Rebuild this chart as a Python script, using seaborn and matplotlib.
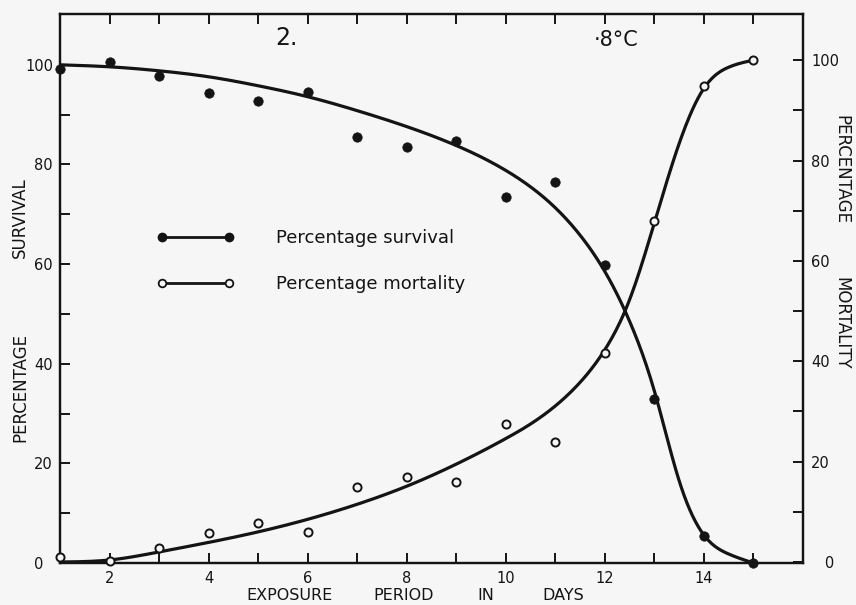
import numpy as np
import pandas as pd
import matplotlib
matplotlib.use("Agg")
import matplotlib.pyplot as plt
from matplotlib.lines import Line2D
from matplotlib.ticker import FixedLocator, FixedFormatter
import seaborn as sns

# Observed values: exposure period (days) at 0.8 degC
days = [1, 2, 3, 4, 5, 6, 7, 8, 9, 10, 11, 12, 13, 14, 15]
survival = [99.2, 100.5, 97.7, 94.3, 92.8, 94.6, 85.5, 83.5, 84.7, 73.5, 76.5, 59.8, 33.0, 5.4, 0.0]
mortality = [0.9, 0.1, 2.7, 5.7, 7.8, 6.0, 15.0, 17.0, 16.0, 27.5, 24.0, 41.6, 68.0, 94.8, 100.0]

# Hand-fitted curves through the observations (knots of the drawn lines)
fit_days = [1, 2, 3, 4, 5, 6, 7, 8, 9, 10, 10.5, 11, 11.5, 12, 12.5, 13, 13.5, 14, 14.5, 15]
survival_fit = [100.0, 99.6, 98.8, 97.6, 95.8, 93.6, 90.8, 87.6, 83.8, 78.8, 75.5, 71.3,
                65.8, 58.5, 48.5, 34.5, 16.5, 5.6, 1.8, 0.0]
mortality_fit = [0.0, 0.4, 2.0, 3.9, 6.0, 8.5, 11.5, 15.1, 19.5, 24.6, 27.5, 31.1,
                 35.8, 42.3, 52.3, 67.6, 83.4, 94.4, 98.6, 100.0]

x_ticks = [2, 4, 6, 8, 10, 12, 14]
y_ticks = [0, 20, 40, 60, 80, 100]

ink = "#141414"
paper = "#f6f6f6"


def smooth_curve(xk, yk, xs):
    """Natural cubic spline through the knots, used to draw a smooth fitted line."""
    xk = np.asarray(xk, float)
    yk = np.asarray(yk, float)
    n = len(xk)
    h = np.diff(xk)
    A = np.zeros((n, n))
    r = np.zeros(n)
    A[0, 0] = A[-1, -1] = 1.0
    for i in range(1, n - 1):
        A[i, i - 1] = h[i - 1]
        A[i, i] = 2 * (h[i - 1] + h[i])
        A[i, i + 1] = h[i]
        r[i] = 6 * ((yk[i + 1] - yk[i]) / h[i] - (yk[i] - yk[i - 1]) / h[i - 1])
    M = np.linalg.solve(A, r)
    i = np.clip(np.searchsorted(xk, xs, side="right") - 1, 0, n - 2)
    a = xk[i + 1] - xs
    b = xs - xk[i]
    hi = h[i]
    return (M[i] * a**3 / (6 * hi) + M[i + 1] * b**3 / (6 * hi)
            + (yk[i] / hi - M[i] * hi / 6) * a + (yk[i + 1] / hi - M[i + 1] * hi / 6) * b)


obs = pd.DataFrame({"day": days, "survival": survival, "mortality": mortality})
grid = np.linspace(fit_days[0], fit_days[-1], 500)
curves = pd.DataFrame({
    "day": grid,
    "survival": smooth_curve(fit_days, survival_fit, grid),
    "mortality": smooth_curve(fit_days, mortality_fit, grid),
})

sns.set_style("white")
plt.rcParams["font.family"] = ["DejaVu Sans"]

fig = plt.figure(figsize=(8.56, 6.05), dpi=100, facecolor=paper)
ax = fig.add_axes([60 / 856, 1 - 563 / 605, 743 / 856, 549 / 605])
ax.set_facecolor(paper)
ax2 = ax.twinx()

# survival on the left scale
sns.lineplot(data=curves, x="day", y="survival", ax=ax, color=ink, lw=2.3,
             sort=False, estimator=None)
sns.scatterplot(data=obs, x="day", y="survival", ax=ax, color=ink, s=46,
                edgecolor=ink, linewidth=0.5, clip_on=False, zorder=5, legend=False)

# mortality on the right scale
sns.lineplot(data=curves, x="day", y="mortality", ax=ax2, color=ink, lw=2.3,
             sort=False, estimator=None)
sns.scatterplot(data=obs, x="day", y="mortality", ax=ax2, facecolor=paper, s=34,
                edgecolor=ink, linewidth=1.4, clip_on=False, zorder=5, legend=False)

ax.set_xlim(1, 16)
ax.set_ylim(0, 110.2)
ax2.set_ylim(-0.2, 109.2)

for a in (ax, ax2):
    a.set_xlabel("")
    a.set_ylabel("")
    for sp in a.spines.values():
        sp.set_visible(True)
        sp.set_color(ink)
        sp.set_linewidth(1.6)

# x ticks: every day, labels on even days, all pointing inward
ax.xaxis.set_major_locator(FixedLocator(x_ticks))
ax.xaxis.set_major_formatter(FixedFormatter([str(v) for v in x_ticks]))
ax.xaxis.set_minor_locator(FixedLocator([3, 5, 7, 9, 11, 13, 15]))
ax.tick_params(axis="x", which="both", direction="in", length=7, width=1.4,
               top=True, bottom=True, color=ink, labelsize=10.5, pad=6,
               labelcolor=ink)

# left scale
left_labels = [("0  " if v == 0 else str(v)) for v in y_ticks]
ax.yaxis.set_major_locator(FixedLocator(y_ticks))
ax.yaxis.set_major_formatter(FixedFormatter(left_labels))
ax.yaxis.set_minor_locator(FixedLocator([10, 30, 50, 70, 90]))
ax.tick_params(axis="y", which="both", direction="in", length=7, width=1.4,
               left=True, right=False, color=ink, labelsize=10.5, pad=5,
               labelcolor=ink)

# right scale
right_labels = [("   0" if v == 0 else str(v)) for v in y_ticks]
ax2.yaxis.set_major_locator(FixedLocator(y_ticks))
ax2.yaxis.set_major_formatter(FixedFormatter(right_labels))
ax2.yaxis.set_minor_locator(FixedLocator([10, 30, 50, 70, 90]))
ax2.tick_params(axis="y", which="both", direction="in", length=7, width=1.4,
                left=False, right=True, color=ink, labelsize=10.5, pad=6,
                labelcolor=ink)

# legend
handles = [
    Line2D([], [], color=ink, lw=2.0, marker="o", ms=6, mfc=ink, mec=ink),
    Line2D([], [], color=ink, lw=2.0, marker="o", ms=5.5, mfc=paper, mec=ink, mew=1.3),
]
ax2.legend(handles, ["Percentage survival", "Percentage mortality"], numpoints=2,
           handlelength=4.3, handletextpad=2.3, labelspacing=1.55, frameon=False,
           loc="center left", bbox_to_anchor=(0.1306, 0.55), borderpad=0,
           borderaxespad=0, fontsize=13, labelcolor=ink)


def ftext(x, y, s, **kw):
    fig.text(x / 856, 1 - y / 605, s, color=ink, ha="center", va="center", **kw)


# panel number and temperature
ftext(286, 38, "2.", fontsize=17)
ftext(616, 40, "·8°C", fontsize=15)

# axis titles
for word, xc in [("EXPOSURE", 290), ("PERIOD", 404), ("IN", 486), ("DAYS", 563)]:
    ftext(xc, 596, word, fontsize=11.5)
ftext(20, 388, "PERCENTAGE", fontsize=12, rotation=90)
ftext(20, 218, "SURVIVAL", fontsize=12, rotation=90)
ftext(841, 170, "PERCENTAGE", fontsize=12, rotation=270)
ftext(841, 323, "MORTALITY", fontsize=12, rotation=270)

fig.savefig("out.png", dpi=100, facecolor=paper)
